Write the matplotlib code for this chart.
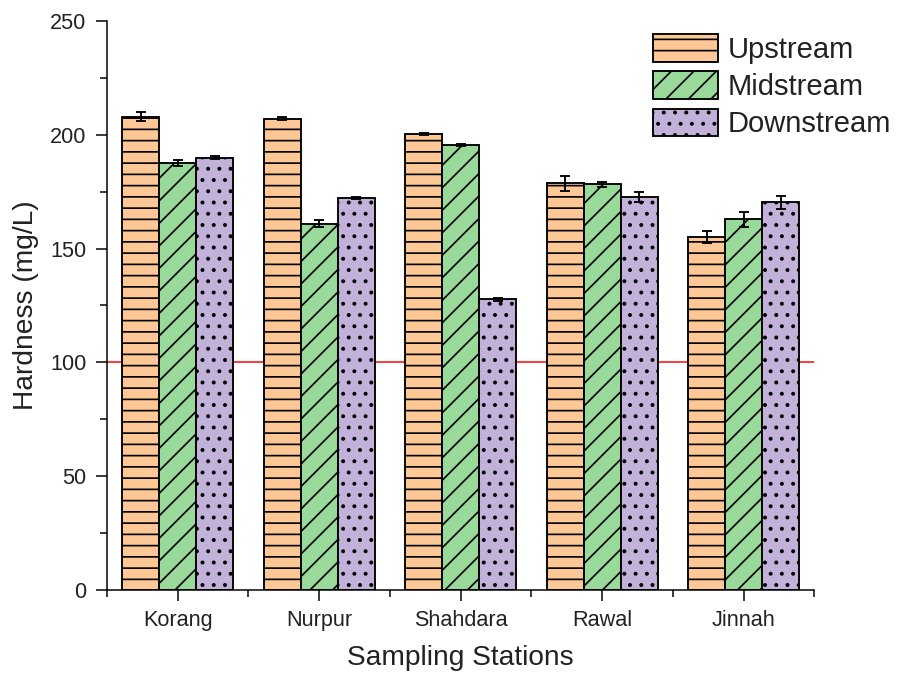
import matplotlib
matplotlib.use("Agg")
import matplotlib.pyplot as plt
import numpy as np
from matplotlib.ticker import MultipleLocator, FixedLocator

plt.rcParams['font.family'] = ['Liberation Sans', 'DejaVu Sans']
plt.rcParams['hatch.linewidth'] = 0.9

stations = ["Korang", "Nurpur", "Shahdara", "Rawal", "Jinnah"]
series_names = ["Upstream", "Midstream", "Downstream"]
upstream = [208.0, 207.0, 200.3, 178.7, 155.0]
upstream_err = [1.8, 0.6, 0.6, 3.2, 2.5]
midstream = [187.6, 161.0, 195.5, 178.2, 162.9]
midstream_err = [1.5, 1.5, 0.6, 1.0, 3.3]
downstream = [190.0, 172.2, 127.7, 172.7, 170.3]
downstream_err = [0.5, 0.6, 0.6, 2.3, 2.7]
limit_value = 100

colors = ["#FDC896", "#99D999", "#C2B2DA"]
hatches = ["--", "//", ".."]

DPI = 135
fig = plt.figure(figsize=(899 / DPI, 678 / DPI), dpi=DPI)
ax = fig.add_axes([0.119, 0.13, 0.787, 0.839])

x = np.arange(len(stations))
w = 0.262
data = [upstream, midstream, downstream]
errs = [upstream_err, midstream_err, downstream_err]

ax.axhline(limit_value, color="red", lw=0.8, zorder=1)

handles = []
for i, (vals, er) in enumerate(zip(data, errs)):
    pos = x + (i - 1) * w
    b = ax.bar(pos, vals, width=w, color=colors[i], edgecolor="black",
               linewidth=1.0, hatch=hatches[i], zorder=2, label=series_names[i])
    handles.append(b)
    ax.errorbar(pos, vals, yerr=er, fmt="none", ecolor="black",
                elinewidth=1.0, capsize=2.6, capthick=1.0, zorder=3)

ax.set_xlim(-0.5, len(stations) - 0.5)
ax.set_ylim(0, 250)
ax.set_xticks(x)
ax.set_xticklabels(stations)
ax.xaxis.set_minor_locator(FixedLocator(np.arange(-0.5, len(stations), 1.0)))
ax.yaxis.set_major_locator(MultipleLocator(50))
ax.yaxis.set_minor_locator(MultipleLocator(25))

for s in ["top", "right"]:
    ax.spines[s].set_visible(False)
for s in ["left", "bottom"]:
    ax.spines[s].set_linewidth(0.8)

ax.tick_params(which="major", direction="out", length=6, width=0.8,
               labelsize=11.5, colors="black", labelcolor="#222222")
ax.tick_params(which="minor", direction="out", length=3.5, width=0.8)
ax.tick_params(axis="x", pad=5)
ax.tick_params(axis="y", pad=5)

ax.set_xlabel("Sampling Stations", fontsize=15, color="#222222", labelpad=7)
ax.set_ylabel("Hardness (mg/L)", fontsize=15, color="#222222", labelpad=6)

leg = ax.legend(handles=handles, loc="upper left",
                bbox_to_anchor=(647 / 899, 1 - 28 / 678),
                bbox_transform=fig.transFigure, frameon=False,
                fontsize=15.5, handlelength=2.24, handleheight=1.1,
                labelspacing=0.26, handletextpad=0.34, borderpad=0.2,
                borderaxespad=0)
for t in leg.get_texts():
    t.set_color("#222222")

fig.savefig("out.png", dpi=DPI)
